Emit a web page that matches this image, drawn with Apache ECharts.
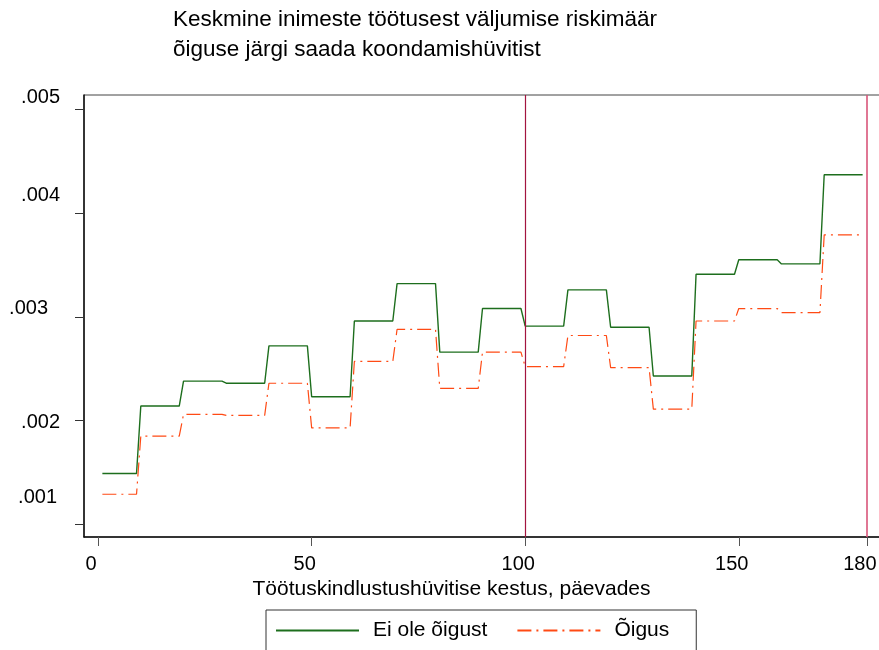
<!DOCTYPE html>
<html>
<head>
<meta charset="utf-8">
<script src="https://cdn.jsdelivr.net/npm/echarts@6/dist/echarts.min.js"></script>
<style>
  html, body { margin: 0; padding: 0; background: #fff; }
  #chart { width: 879px; height: 650px; }
</style>
</head>
<body>
<div id="chart"></div>
<script>
// Ten-day benefit periods: first and last day of each step
const periodStart = [1, 10, 20, 30, 40, 50, 60, 70, 80, 90, 100, 110, 120, 130, 140, 150, 160, 170];
const periodEnd   = [9, 19, 29, 39, 49, 59, 69, 79, 89, 99, 109, 119, 129, 139, 149, 159, 169, 179];

// Average hazard of leaving unemployment, per period
const noRight = [0.00149, 0.00214, 0.00238, 0.00236, 0.00272, 0.00223, 0.00296, 0.00332, 0.00266,
                 0.00308, 0.00291, 0.00326, 0.00290, 0.00243, 0.00341, 0.00355, 0.00351, 0.00437];
const hasRight = [0.00129, 0.00185, 0.00206, 0.00205, 0.00236, 0.00193, 0.00257, 0.00288, 0.00231,
                  0.00266, 0.00252, 0.00282, 0.00251, 0.00211, 0.00296, 0.00308, 0.00304, 0.00379];

const xTicks = [0, 50, 100, 150, 180];
const yTicks = [0.001, 0.002, 0.003, 0.004, 0.005];
const yTickLabels = ['.001', '.002', '.003', '.004', '.005'];
const refLines = [100, 180];

const seriesNames = ['Ei ole õigust', 'Õigus'];
const titleLines = ['Keskmine inimeste töötusest väljumise riskimäär', 'õiguse järgi saada koondamishüvitist'];
const xTitle = 'Töötuskindlustushüvitise kestus, päevades';

function steps(values) {
  const pts = [];
  values.forEach((v, i) => {
    pts.push([periodStart[i], v]);
    pts.push([periodEnd[i], v]);
  });
  return pts;
}

const FONT = '"Liberation Sans", Arial, sans-serif';

// per-label placement of the y tick labels
const yLab = { fontSize: 20, fontFamily: FONT, color: '#000' };
const yRich = {
  l0: Object.assign({ padding: [0, 3, 54, 0] }, yLab),
  l1: Object.assign({ padding: [4, 0, 0, 0] }, yLab),
  l2: Object.assign({ padding: [0, 12, 16, 0] }, yLab),
  l3: Object.assign({ padding: [0, 0, 36, 0] }, yLab),
  l4: Object.assign({ padding: [0, 0, 24, 0] }, yLab)
};

const chart = echarts.init(document.getElementById('chart'), null, { renderer: 'canvas' });

chart.setOption({
  backgroundColor: '#fff',
  animation: false,
  title: {
    text: titleLines.join('\n'),
    left: 173,
    top: 5,
    padding: 0,
    textStyle: { fontSize: 22.5, fontWeight: 'normal', color: '#000', fontFamily: FONT, lineHeight: 30 }
  },
  legend: {
    left: 266,
    top: 610,
    orient: 'horizontal',
    itemWidth: 83,
    itemHeight: 14,
    itemGap: 29,
    padding: [10, 27, 20, 9],
    borderColor: '#333',
    borderWidth: 1,
    borderRadius: 0,
    itemStyle: { opacity: 0 },
    textStyle: { fontSize: 21, color: '#000', fontFamily: FONT, padding: [0, 0, 0, 9] },
    data: seriesNames
  },
  grid: {
    left: 84,
    top: 95,
    width: 797,
    height: 442,
    show: true,
    borderColor: '#444',
    borderWidth: 1,
    containLabel: false,
    outerBoundsMode: 'none'
  },
  xAxis: {
    type: 'value',
    min: -3.3,
    max: 183.3,
    splitLine: { show: false },
    axisLine: { show: true, onZero: false, lineStyle: { color: '#111', width: 1.5 } },
    axisTick: { show: true, length: 9, customValues: xTicks, lineStyle: { color: '#555' } },
    axisLabel: {
      customValues: xTicks,
      fontSize: 20,
      fontFamily: FONT,
      color: '#000',
      margin: 17,
      padding: [0, 14, 0, 0],
      formatter: v => String(v)
    },
    name: xTitle,
    nameLocation: 'middle',
    nameGap: 40,
    nameTextStyle: { fontSize: 21, fontFamily: FONT, color: '#000', padding: [0, 62, 0, 0] }
  },
  yAxis: {
    type: 'value',
    min: 0.000878,
    max: 0.005138,
    splitLine: { show: false },
    axisLine: { show: true, onZero: false, lineStyle: { color: '#111', width: 1.5 } },
    axisTick: { show: true, length: 9, customValues: yTicks, lineStyle: { color: '#333' } },
    axisLabel: {
      customValues: yTicks,
      margin: 24,
      formatter: v => {
        const i = yTicks.findIndex(t => Math.abs(t - v) < 1e-9);
        return i < 0 ? '' : '{l' + i + '|' + yTickLabels[i] + '}';
      },
      rich: yRich
    }
  },
  series: [
    {
      name: seriesNames[0],
      type: 'line',
      data: steps(noRight),
      symbol: 'none',
      lineStyle: { color: '#1d6e1d', width: 1.4, type: 'solid' },
      itemStyle: { color: '#1d6e1d' },
      z: 3,
      markLine: {
        silent: true,
        symbol: ['none', 'none'],
        label: { show: false },
        data: [
          { xAxis: refLines[0], lineStyle: { color: '#a3143f', width: 1.2, type: 'solid' } },
          { xAxis: refLines[1], lineStyle: { color: '#d9557a', width: 1.6, type: 'solid' } }
        ]
      }
    },
    {
      name: seriesNames[1],
      type: 'line',
      data: steps(hasRight),
      symbol: 'none',
      lineStyle: { color: '#ff4a14', width: 1.2, type: [14, 5, 2, 5] },
      itemStyle: { color: '#ff4a14' },
      z: 3
    }
  ]
});
</script>
</body>
</html>
